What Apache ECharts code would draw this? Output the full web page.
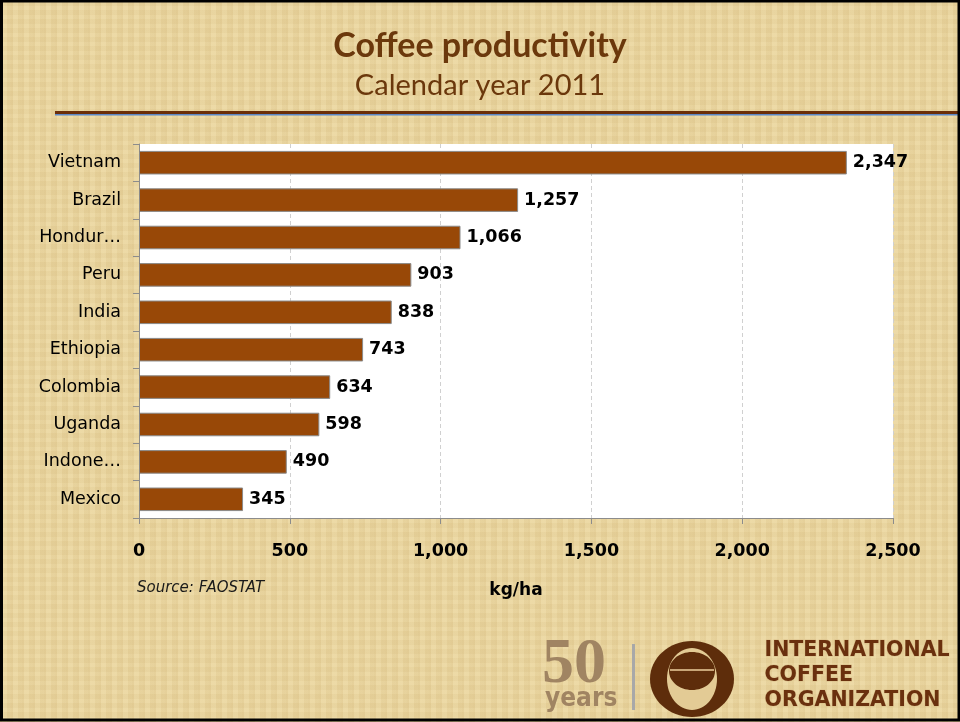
<!DOCTYPE html>
<html>
<head>
<meta charset="utf-8">
<script src="https://cdn.jsdelivr.net/npm/echarts@6/dist/echarts.min.js"></script>
<style>
html,body{margin:0;padding:0;}
body{width:960px;height:722px;overflow:hidden;
background-color:#E9D49D;
background-image:
 repeating-linear-gradient(90deg, rgba(200,170,110,0.14) 0px, rgba(200,170,110,0.14) 2px, rgba(255,245,210,0.10) 2px, rgba(255,245,210,0.10) 7px, rgba(190,160,100,0.08) 7px, rgba(190,160,100,0.08) 11px),
 repeating-linear-gradient(0deg, rgba(200,170,110,0.08) 0px, rgba(200,170,110,0.08) 1px, rgba(255,245,210,0.08) 1px, rgba(255,245,210,0.08) 5px, rgba(180,150,95,0.05) 5px, rgba(180,150,95,0.05) 9px);
}
#chart{width:960px;height:722px;}
</style>
</head>
<body>
<div id="chart"></div>
<script>
const categories = ["Vietnam","Brazil","Hondur\u2026","Peru","India","Ethiopia","Colombia","Uganda","Indone\u2026","Mexico"];
const productivity = [2347,1257,1066,903,838,743,634,598,490,345];
const xTicks = [0,500,1000,1500,2000,2500];

const chart = echarts.init(document.getElementById('chart'), null, {renderer:'canvas'});
const fmt = v => Number(v).toLocaleString('en-US');
const brown = '#6B380C';

chart.setOption({
  backgroundColor: 'transparent',
  animation: false,
  title: [
    {text:'Coffee productivity', left:'center', top:24,
     textStyle:{fontFamily:'Lato', fontWeight:'bold', fontSize:34, color:brown}},
    {text:'Calendar year 2011', left:'center', top:66,
     textStyle:{fontFamily:'Lato', fontWeight:'normal', fontSize:29, color:brown}}
  ],
  grid:{left:139, right:67, top:144, bottom:204, backgroundColor:'#FFFFFF', show:true, borderWidth:0},
  xAxis:{
    type:'value', min:xTicks[0], max:xTicks[xTicks.length-1], interval:500,
    name:'kg/ha', nameLocation:'middle', nameGap:64,
    nameTextStyle:{fontFamily:'DejaVu Sans', fontWeight:'bold', fontSize:17, color:'#000'},
    axisLine:{show:true, lineStyle:{color:'#8C8C8C', width:1}},
    axisTick:{show:true, length:6, lineStyle:{color:'#8C8C8C'}},
    axisLabel:{margin:24, fontFamily:'DejaVu Sans', fontWeight:'bold', fontSize:17.5, color:'#000', formatter:fmt},
    splitLine:{show:true, lineStyle:{color:'#D0D0D0', type:[4,3], width:1}}
  },
  yAxis:{
    type:'category', data:categories, inverse:true,
    axisLine:{show:true, lineStyle:{color:'#8C8C8C', width:1}},
    axisTick:{show:true, length:6, lineStyle:{color:'#8C8C8C'}},
    axisLabel:{margin:18, fontFamily:'DejaVu Sans', fontSize:17.5, color:'#000'}
  },
  series:[{
    type:'bar', data:productivity, barWidth:'63%',
    itemStyle:{color:'#984807', borderColor:'#8A8A8A', borderWidth:1},
    label:{show:true, position:'right', distance:6, formatter:p=>fmt(p.value),
      fontFamily:'DejaVu Sans', fontWeight:'bold', fontSize:17.5, color:'#000'}
  }],
  graphic:[
    {type:'rect', shape:{x:55,y:111,width:905,height:3}, style:{fill:'#6B2E08'}, silent:true},
    {type:'rect', shape:{x:55,y:114,width:905,height:1.5}, style:{fill:'#5B86C6'}, silent:true},
    {type:'text', left:137, top:581, style:{text:'Source: FAOSTAT', font:'italic 15px "DejaVu Sans"', fill:'#1a1a1a'}},
    // logo
    {type:'text', left:542, top:633, style:{text:'50', font:'bold 64px "Liberation Serif"', fill:'#A08462'}},
    {type:'text', left:545, top:686, style:{text:'years', font:'bold 26px "DejaVu Sans Condensed"', fill:'#A08462'}},
    {type:'rect', shape:{x:632,y:644,width:3,height:66}, style:{fill:'#A8A8A8'}},
    {type:'ellipse', shape:{cx:692,cy:679,rx:42,ry:38}, style:{fill:'#5E2D0B'}},
    {type:'ellipse', shape:{cx:692,cy:679,rx:25,ry:31}, style:{fill:'#E3CB95'}},
    {type:'ellipse', shape:{cx:692,cy:671,rx:23,ry:19}, style:{fill:'#5E2D0B'}},
    {type:'rect', shape:{x:670,y:669,width:44,height:2}, style:{fill:'#C9A678'}},
    {type:'text', left:764, top:640, style:{text:'INTERNATIONAL', font:'bold 20.5px "DejaVu Sans"', fill:'#6A300E', stroke:'#D9BF8A', lineWidth:1}},
    {type:'text', left:764, top:665, style:{text:'COFFEE', font:'bold 20.5px "DejaVu Sans"', fill:'#6A300E', stroke:'#D9BF8A', lineWidth:1}},
    {type:'text', left:764, top:690, style:{text:'ORGANIZATION', font:'bold 20.5px "DejaVu Sans"', fill:'#6A300E', stroke:'#D9BF8A', lineWidth:1}},
    // frame
    {type:'rect', shape:{x:1.5,y:1,width:957.5,height:719}, style:{fill:'none', stroke:'#000', lineWidth:3}, silent:true}
  ]
});
</script>
</body>
</html>
